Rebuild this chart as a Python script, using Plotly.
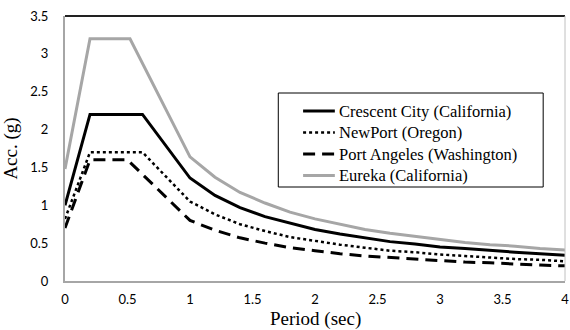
import plotly.graph_objects as go

# Design acceleration response spectra for four Pacific coast sites
names = [
    "Crescent City (California)",
    "NewPort (Oregon)",
    "Port Angeles (Washington)",
    "Eureka (California)",
]

tail_periods = [1.0, 1.2, 1.4, 1.6, 1.8, 2.0, 2.2, 2.4, 2.6, 2.8,
                3.0, 3.2, 3.4, 3.6, 3.8, 4.0]

crescent_T = [0.0, 0.2, 0.62] + tail_periods
crescent_acc = [1.0, 2.2, 2.2,
                1.36, 1.13, 0.97, 0.85, 0.76, 0.68, 0.62, 0.57, 0.52, 0.49,
                0.45, 0.43, 0.40, 0.38, 0.36, 0.34]

newport_T = [0.0, 0.2, 0.62] + tail_periods
newport_acc = [0.82, 1.7, 1.7,
               1.05, 0.88, 0.75, 0.66, 0.58, 0.53, 0.48, 0.44, 0.40, 0.38,
               0.35, 0.33, 0.31, 0.29, 0.28, 0.26]

portangeles_T = [0.0, 0.2, 0.5] + tail_periods
portangeles_acc = [0.7, 1.6, 1.6,
                   0.80, 0.67, 0.57, 0.50, 0.44, 0.40, 0.36, 0.33, 0.31, 0.29,
                   0.27, 0.25, 0.24, 0.22, 0.21, 0.20]

eureka_T = [0.0, 0.2, 0.52] + tail_periods
eureka_acc = [1.48, 3.2, 3.2,
              1.64, 1.37, 1.17, 1.03, 0.91, 0.82, 0.75, 0.68, 0.63, 0.59,
              0.55, 0.51, 0.48, 0.46, 0.43, 0.41]

x_ticks = [0, 0.5, 1, 1.5, 2, 2.5, 3, 3.5, 4]
x_tick_text = ["0", "0.5", "1", "1.5", "2", "2.5", "3", "3.5", "4"]
y_ticks = [0, 0.5, 1, 1.5, 2, 2.5, 3, 3.5]
y_tick_text = ["0", "0.5", "1", "1.5", "2", "2.5", "3", "3.5"]

line_styles = [
    dict(color="black", width=3, dash="solid"),
    dict(color="black", width=2.5, dash="dot"),
    dict(color="black", width=3, dash="12px,7px"),
    dict(color="#A6A6A6", width=3, dash="solid"),
]

serif = "Liberation Serif"
sans = "Lato"

W, H = 570, 330
L, R, T, B = 65, 1, 16, 49
PW, PH = W - L - R, H - T - B


def px(x):
    """Pixel column -> paper x."""
    return (x - L) / PW


def py(y):
    """Pixel row -> paper y."""
    return (H - B - y) / PH


fig = go.Figure()
for name, xs, ys, line in zip(names,
                              [crescent_T, newport_T, portangeles_T, eureka_T],
                              [crescent_acc, newport_acc, portangeles_acc, eureka_acc],
                              line_styles):
    fig.add_trace(go.Scatter(x=xs, y=ys, mode="lines", name=name, line=line,
                             showlegend=False))

# Plot frame edges plus a boxed key drawn with shapes and annotations
shapes = [
    dict(type="line", xref="paper", yref="paper", x0=0, x1=1, y0=1, y1=1,
         line=dict(color="#222222", width=2)),
    dict(type="line", xref="paper", yref="paper", x0=1, x1=1, y0=0, y1=1,
         line=dict(color="#C0C0C0", width=1)),
    dict(type="rect", xref="paper", yref="paper",
         x0=px(280), x1=px(547), y0=py(187), y1=py(93),
         line=dict(color="black", width=1), fillcolor="white", layer="above"),
]
annotations = []
key_rows = [111, 132.5, 154, 175.5]
for name, line, yrow in zip(names, line_styles, key_rows):
    shapes.append(dict(type="line", xref="paper", yref="paper",
                       x0=px(305), x1=px(337), y0=py(yrow), y1=py(yrow),
                       line=line, layer="above"))
    annotations.append(dict(text=name, xref="paper", yref="paper",
                            x=px(339), y=py(yrow), xanchor="left", yanchor="middle",
                            showarrow=False,
                            font=dict(family=serif, size=16.5, color="black")))

annotations.append(dict(text="Period (sec)", xref="paper", yref="paper",
                        x=0.5, y=py(319), xanchor="center", yanchor="middle",
                        showarrow=False,
                        font=dict(family=serif, size=19, color="black")))

fig.update_layout(
    width=W, height=H,
    margin=dict(l=L, r=R, t=T, b=B),
    paper_bgcolor="white", plot_bgcolor="white",
    font=dict(family=serif, color="black"),
    showlegend=False,
    xaxis=dict(
        range=[0, 4], tickvals=x_ticks, ticktext=x_tick_text,
        showgrid=False, zeroline=False,
        showline=True, linecolor="#A6A6A6", linewidth=2,
        ticks="", ticklabelstandoff=5, ticklabeloverflow="allow",
        tickfont=dict(family=sans, size=13, color="black"),
    ),
    yaxis=dict(
        range=[0, 3.5], tickvals=y_ticks, ticktext=y_tick_text,
        showgrid=False, zeroline=False,
        showline=True, linecolor="#A6A6A6", linewidth=2,
        ticks="", ticklabelstandoff=12,
        tickfont=dict(family=sans, size=13, color="black"),
        title=dict(text="Acc. (g)", font=dict(family=serif, size=19, color="black"),
                   standoff=8),
    ),
    shapes=shapes,
    annotations=annotations,
)

fig.write_html("out.html")
